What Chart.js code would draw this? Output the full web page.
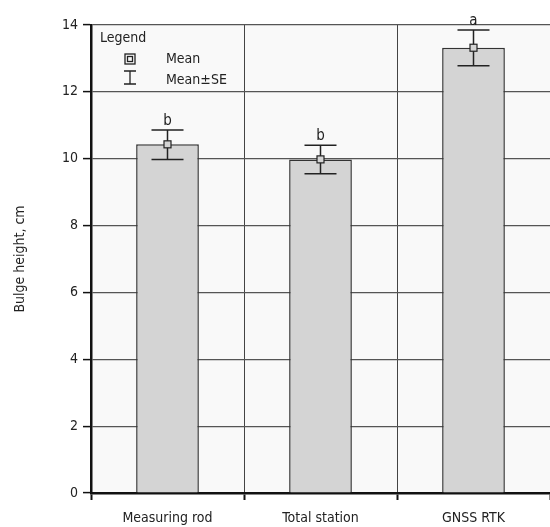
<!DOCTYPE html>
<html>
<head>
<meta charset="utf-8">
<script src="https://cdn.jsdelivr.net/npm/chart.js@4"></script>
<style>
  html, body { margin: 0; padding: 0; background: #ffffff; }
  #wrap { width: 550px; height: 527px; }
</style>
</head>
<body>
<div id="wrap"><canvas id="chart" width="550" height="527"></canvas></div>
<script>
// data
const categories = ["Measuring rod", "Total station", "GNSS RTK"];
const meanValues = [10.43, 9.98, 13.32];
const seLow = [9.98, 9.55, 12.78];
const seHigh = [10.86, 10.4, 13.85];
const groupLetters = ["b", "b", "a"];
const yTicks = [0, 2, 4, 6, 8, 10, 12, 14];

const FONT = "'Liberation Sans Narrow', 'DejaVu Sans Condensed', 'Liberation Sans', Arial, sans-serif";

// light plot background
const plotBg = {
  id: "plotBg",
  beforeDraw(chart) {
    const a = chart.chartArea;
    const ctx = chart.ctx;
    ctx.save();
    ctx.fillStyle = "#f9f9f9";
    ctx.fillRect(a.left, a.top, a.right - a.left, a.bottom - a.top);
    ctx.restore();
  },
};

// error bars, mean marks and letters
const errorBars = {
  id: "errorBars",
  afterDatasetsDraw(chart) {
    const ctx = chart.ctx;
    const x = chart.scales.x;
    const y = chart.scales.y;
    ctx.save();
    ctx.strokeStyle = "#222";
    ctx.lineWidth = 1.5;
    categories.forEach((c, i) => {
      const cx = x.getPixelForValue(i);
      const yl = y.getPixelForValue(seLow[i]);
      const yh = y.getPixelForValue(seHigh[i]);
      const ym = y.getPixelForValue(meanValues[i]);
      ctx.beginPath();
      ctx.moveTo(cx, yl);
      ctx.lineTo(cx, yh);
      ctx.moveTo(cx - 16, yl);
      ctx.lineTo(cx + 16, yl);
      ctx.moveTo(cx - 16, yh);
      ctx.lineTo(cx + 16, yh);
      ctx.stroke();
      // mean square
      ctx.fillStyle = "#d4d4d4";
      ctx.fillRect(cx - 3.5, ym - 3.5, 7, 7);
      ctx.lineWidth = 1.2;
      ctx.strokeRect(cx - 3.5, ym - 3.5, 7, 7);
      ctx.lineWidth = 1.5;
      // letter
      ctx.fillStyle = "#222";
      ctx.font = "15px " + FONT;
      ctx.textAlign = "center";
      ctx.textBaseline = "alphabetic";
      ctx.fillText(groupLetters[i], cx, yh - 5);
    });
    ctx.restore();
  },
};

// the little legend box in the corner
const cornerLegend = {
  id: "cornerLegend",
  afterDraw(chart) {
    const ctx = chart.ctx;
    const a = chart.chartArea;
    const lx = a.left + 9;
    const ly = a.top;
    ctx.save();
    ctx.fillStyle = "#222";
    ctx.font = "14px " + FONT;
    ctx.textBaseline = "middle";
    ctx.textAlign = "left";
    ctx.fillText("Legend", lx, ly + 13);
    ctx.fillText("Mean", lx + 66, ly + 34);
    ctx.fillText("Mean\u00b1SE", lx + 66, ly + 55);
    // mean icon
    const ix = lx + 30;
    ctx.strokeStyle = "#222";
    ctx.lineWidth = 1.3;
    ctx.strokeRect(ix - 5, ly + 29, 10, 10);
    ctx.strokeRect(ix - 2.5, ly + 31.5, 5, 5);
    // se icon
    ctx.beginPath();
    ctx.moveTo(ix - 6, ly + 46);
    ctx.lineTo(ix + 6, ly + 46);
    ctx.moveTo(ix, ly + 46);
    ctx.lineTo(ix, ly + 59);
    ctx.moveTo(ix - 6, ly + 59);
    ctx.lineTo(ix + 6, ly + 59);
    ctx.stroke();
    ctx.restore();
  },
};

new Chart(document.getElementById("chart"), {
  type: "bar",
  data: {
    labels: categories,
    datasets: [
      {
        data: meanValues,
        backgroundColor: "#d4d4d4",
        borderColor: "#333",
        borderWidth: 1.5,
        categoryPercentage: 1,
        barPercentage: 0.41,
      },
    ],
  },
  options: {
    responsive: false,
    animation: false,
    layout: { padding: { top: 25, right: 0, left: 0, bottom: 0 } },
    plugins: {
      legend: { display: false },
      tooltip: { enabled: false },
    },
    scales: {
      x: {
        grid: {
          color: "#444",
          lineWidth: 1,
          tickLength: 7,
          tickColor: "#111",
          tickWidth: 2,
        },
        border: { color: "#111", width: 2.5 },
        ticks: {
          color: "#222",
          font: { family: FONT, size: 14 },
          padding: 10,
        },
        afterFit(scale) {
          scale.height = 34;
        },
      },
      y: {
        min: 0,
        max: 14,
        afterBuildTicks(scale) {
          scale.ticks = yTicks.map((v) => ({ value: v }));
        },
        grid: {
          color: "#555",
          lineWidth: 1.2,
          tickLength: 8,
          tickColor: "#111",
          tickWidth: 1.5,
        },
        border: { color: "#111", width: 2.5 },
        ticks: {
          color: "#222",
          font: { family: FONT, size: 14 },
          padding: 5,
        },
        title: {
          display: true,
          text: "Bulge height, cm",
          color: "#222",
          font: { family: FONT, size: 14 },
          padding: { top: 12, bottom: 0 },
        },
        afterFit(scale) {
          scale.width = 91;
        },
      },
    },
  },
  plugins: [plotBg, errorBars, cornerLegend],
});
</script>
</body>
</html>
